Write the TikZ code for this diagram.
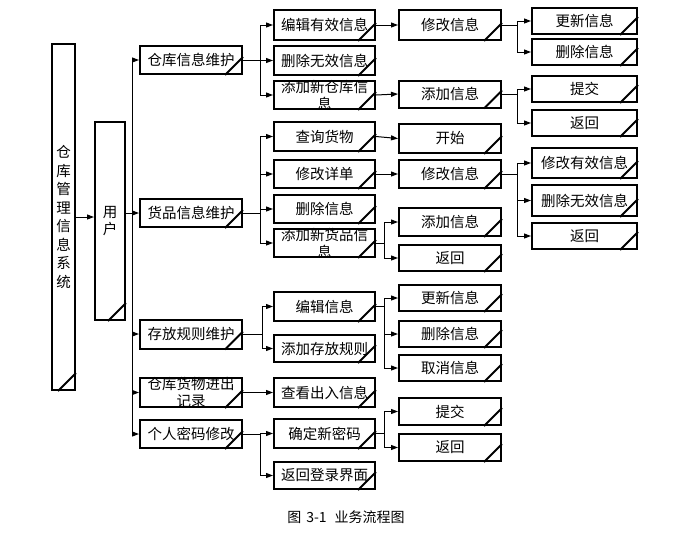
\documentclass[tikz,border=0pt]{standalone}
\usepackage{fontspec}
\setmainfont{Noto Sans CJK SC}
\usetikzlibrary{arrows.meta}
\tikzset{
  x=1pt, y=-1pt,
  bx/.style={draw=black, line width=2pt, fill=white, inner sep=0pt, align=center,
    font=\fontsize{14.5}{17}\selectfont, minimum height=28pt},
  cb/.style={bx, minimum width=102pt},
  cc/.style={bx, minimum width=101pt},
  cd/.style={bx, minimum width=102pt},
  ce/.style={bx, minimum width=105pt},
  lbl/.style={font=\fontsize{14.5}{17}\selectfont, align=center, inner sep=0pt},
  conn/.style={line width=1pt, -{Triangle[length=7pt,width=5pt]}},
  ln/.style={line width=1pt},
  fold/.style={line width=2pt},
}
\begin{document}
\begin{tikzpicture}
\useasboundingbox (0,0) rectangle (690,557);
% bracket x positions
\coordinate (bx1) at (132,0);
\coordinate (bx2) at (260,0);
\coordinate (bx2b) at (262,0);
\coordinate (bx3) at (384,0);
\coordinate (bx4) at (517,0);
% first level
\node[bx, minimum width=23pt, minimum height=346pt, font=\fontsize{14.5}{18.5}\selectfont] (sys) at (63.5,217) {仓\\库\\管\\理\\信\\息\\系\\统};
\node[bx, minimum width=30pt, minimum height=198pt, font=\fontsize{14.5}{16.5}\selectfont] (u) at (110,221) {用\\户};
% second level
\node[cb] (w1) at (191,60) {仓库信息维护};
\node[cb] (w2) at (191,213) {货品信息维护};
\node[cb, minimum height=29pt] (w3) at (191,334) {存放规则维护};
\node[cb, minimum height=29pt, label={[lbl]center:{仓库货物进出\\记录}}] (w4) at (191,392.5) {};
\node[cb] (w5) at (191,434) {个人密码修改};
% third level
\node[cc, minimum height=30pt] (a1) at (324.5,25) {编辑有效信息};
\node[cc, minimum height=29pt] (a2) at (324.5,60.5) {删除无效信息};
\node[cc, label={[lbl]center:{添加新仓库信\\息}}] (a3) at (324.5,95) {};
\node[cc, minimum height=29pt] (b1) at (324.5,136.5) {查询货物};
\node[cc] (b2) at (324.5,174) {修改详单};
\node[cc] (b3) at (324.5,209) {删除信息};
\node[cc, label={[lbl]center:{添加新货品信\\息}}] (b4) at (324.5,243) {};
\node[cc, minimum height=29pt] (c1) at (324.5,306.5) {编辑信息};
\node[cc, minimum height=27pt] (c2) at (324.5,348.5) {添加存放规则};
\node[cc, minimum height=29pt] (d1) at (324.5,392.5) {查看出入信息};
\node[cc, minimum height=29pt] (e1) at (324.5,433.5) {确定新密码};
\node[cc, minimum height=27pt] (e2) at (324.5,475.5) {返回登录界面};
% fourth level
\node[cd, minimum height=30pt] (a11) at (450,25) {修改信息};
\node[cd, minimum height=27pt] (a31) at (450,94) {添加信息};
\node[cd, minimum height=29pt] (b11) at (450,138.5) {开始};
\node[cd] (b21) at (450,174) {修改信息};
\node[cd] (b41) at (450,222) {添加信息};
\node[cd, minimum height=26pt] (b42) at (450,258) {返回};
\node[cd, minimum height=26pt] (c11) at (450,298) {更新信息};
\node[cd, minimum height=26pt] (c12) at (450,334) {删除信息};
\node[cd, minimum height=26pt] (c13) at (450,368) {取消信息};
\node[cd, minimum height=27pt] (e11) at (450,411.5) {提交};
\node[cd, minimum height=27pt] (e12) at (450,447.5) {返回};
% fifth level
\node[ce, minimum height=26pt] (a111) at (584.5,21) {更新信息};
\node[ce, minimum height=26pt] (a112) at (584.5,52) {删除信息};
\node[ce, minimum height=26pt] (a311) at (584.5,89) {提交};
\node[ce, minimum height=26pt] (a312) at (584.5,123) {返回};
\node[ce, minimum height=30pt] (b211) at (584.5,163) {修改有效信息};
\node[ce, minimum height=31pt] (b212) at (584.5,200.5) {删除无效信息};
\node[ce, minimum height=26pt] (b213) at (584.5,236) {返回};
% folded corners
\foreach \n in {sys,u,w1,w2,w3,w4,w5,a1,a2,a3,b1,b2,b3,b4,c1,c2,d1,e1,e2,a11,a31,b11,b21,b41,b42,c11,c12,c13,e11,e12,a111,a112,a311,a312,b211,b212,b213}
  \draw[fold] ([xshift=-18pt]\n.south east) -- ([yshift=18pt]\n.south east);
% connectors level 1
\draw[conn] ([yshift=4pt]u.west -| sys.east) -- ([yshift=4pt]u.west);
\draw[conn] (w2.west -| u.east) -- (w2.west);
\draw[ln] (w1.west -| bx1) -- (w5.west -| bx1);
\foreach \n in {w1,w3,w4,w5}
  \draw[conn] (\n.west -| bx1) -- (\n.west);
% level 2 -> 3
\draw[ln] (w1.east) -- (w1.east -| bx2);
\draw[ln] (a1.west -| bx2) -- (a3.west -| bx2);
\foreach \n in {a1,a2,a3} \draw[conn] (\n.west -| bx2) -- (\n.west);
\draw[ln] (w2.east) -- (w2.east -| bx2);
\draw[ln] (b1.west -| bx2) -- (b4.west -| bx2);
\foreach \n in {b1,b2,b3,b4} \draw[conn] (\n.west -| bx2) -- (\n.west);
\draw[ln] (w3.east) -- (w3.east -| bx2b);
\draw[ln] (c1.west -| bx2b) -- (c2.west -| bx2b);
\foreach \n in {c1,c2} \draw[conn] (\n.west -| bx2b) -- (\n.west);
\draw[conn] (w4.east) -- (d1.west);
\draw[ln] (w5.east) -- (w5.east -| bx2);
\draw[ln] (e1.west -| bx2) -- (e2.west -| bx2);
\foreach \n in {e1,e2} \draw[conn] (\n.west -| bx2) -- (\n.west);
% level 3 -> 4
\draw[conn] (a1.east) -- (a11.west);
\draw[conn] (a3.east) -- (a31.west);
\draw[conn] (b1.east) -- (b11.west);
\draw[conn] (b2.east) -- (b21.west);
\draw[ln] (b4.east) -- (b4.east -| bx3);
\draw[ln] (b41.west -| bx3) -- (b42.west -| bx3);
\foreach \n in {b41,b42} \draw[conn] (\n.west -| bx3) -- (\n.west);
\draw[ln] (c1.east) -- (c1.east -| bx3);
\draw[ln] (c11.west -| bx3) -- (c13.west -| bx3);
\foreach \n in {c11,c12,c13} \draw[conn] (\n.west -| bx3) -- (\n.west);
\draw[ln] (e1.east) -- (e1.east -| bx3);
\draw[ln] (e11.west -| bx3) -- (e12.west -| bx3);
\foreach \n in {e11,e12} \draw[conn] (\n.west -| bx3) -- (\n.west);
% level 4 -> 5
\draw[ln] (a11.east) -- (a11.east -| bx4);
\draw[ln] (a111.west -| bx4) -- (a112.west -| bx4);
\foreach \n in {a111,a112} \draw[conn] (\n.west -| bx4) -- (\n.west);
\draw[ln] (a31.east) -- (a31.east -| bx4);
\draw[ln] (a311.west -| bx4) -- (a312.west -| bx4);
\foreach \n in {a311,a312} \draw[conn] (\n.west -| bx4) -- (\n.west);
\draw[ln] (b21.east) -- (b21.east -| bx4);
\draw[ln] (b211.west -| bx4) -- (b213.west -| bx4);
\foreach \n in {b211,b212,b213} \draw[conn] (\n.west -| bx4) -- (\n.west);
% caption
\node[font=\fontsize{14}{16}\selectfont, inner sep=0pt] (cap) at (346,517) {图\hspace{5pt}3-1\hspace{8pt}业务流程图};
\end{tikzpicture}
\end{document}
